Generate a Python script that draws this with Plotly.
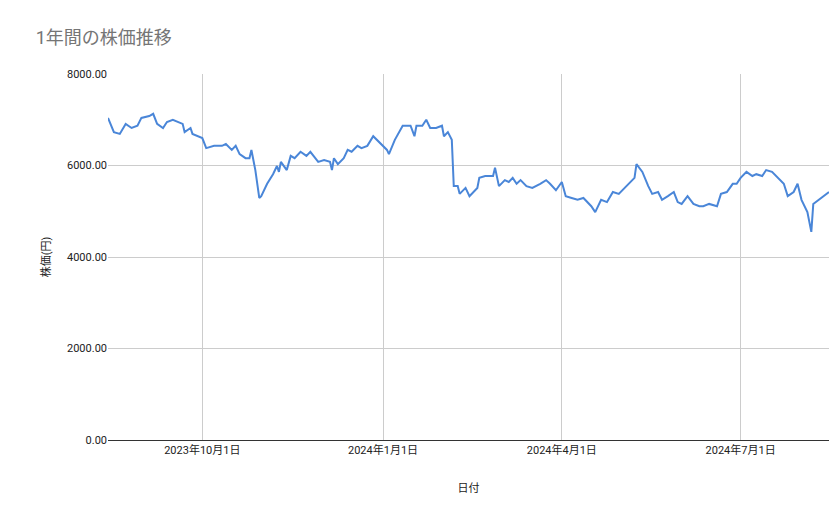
import plotly.graph_objects as go

# =========================
# DATA
# =========================
dates = [
    "2023-08-14", "2023-08-16", "2023-08-17", "2023-08-20", "2023-08-23", "2023-08-26",
    "2023-08-29", "2023-08-31", "2023-09-04", "2023-09-06", "2023-09-08", "2023-09-11",
    "2023-09-13", "2023-09-16", "2023-09-21", "2023-09-22", "2023-09-25", "2023-09-26",
    "2023-09-29", "2023-10-01", "2023-10-03", "2023-10-07", "2023-10-11", "2023-10-13",
    "2023-10-16", "2023-10-18", "2023-10-20", "2023-10-23", "2023-10-25", "2023-10-26",
    "2023-10-28", "2023-10-30", "2023-10-31", "2023-11-03", "2023-11-06", "2023-11-08",
    "2023-11-09", "2023-11-10", "2023-11-13", "2023-11-15", "2023-11-17", "2023-11-20",
    "2023-11-23", "2023-11-25", "2023-11-29", "2023-12-02", "2023-12-05", "2023-12-06",
    "2023-12-07", "2023-12-09", "2023-12-12", "2023-12-14", "2023-12-16", "2023-12-19",
    "2023-12-21", "2023-12-24", "2023-12-27", "2023-12-31", "2024-01-03", "2024-01-04",
    "2024-01-07", "2024-01-11", "2024-01-15", "2024-01-17", "2024-01-18", "2024-01-21",
    "2024-01-23", "2024-01-25", "2024-01-28", "2024-01-31", "2024-02-01", "2024-02-03",
    "2024-02-05", "2024-02-06", "2024-02-08", "2024-02-09", "2024-02-12", "2024-02-14",
    "2024-02-18", "2024-02-19", "2024-02-22", "2024-02-26", "2024-02-27", "2024-02-29",
    "2024-03-03", "2024-03-05", "2024-03-07", "2024-03-09", "2024-03-11", "2024-03-14",
    "2024-03-17", "2024-03-21", "2024-03-24", "2024-03-26", "2024-03-29", "2024-04-01",
    "2024-04-03", "2024-04-06", "2024-04-09", "2024-04-12", "2024-04-16", "2024-04-18",
    "2024-04-21", "2024-04-24", "2024-04-27", "2024-04-30", "2024-05-04", "2024-05-08",
    "2024-05-09", "2024-05-12", "2024-05-15", "2024-05-17", "2024-05-20", "2024-05-22",
    "2024-05-25", "2024-05-28", "2024-05-30", "2024-06-01", "2024-06-04", "2024-06-07",
    "2024-06-10", "2024-06-12", "2024-06-15", "2024-06-19", "2024-06-21", "2024-06-24",
    "2024-06-27", "2024-06-29", "2024-07-01", "2024-07-04", "2024-07-07", "2024-07-09",
    "2024-07-12", "2024-07-14", "2024-07-17", "2024-07-20", "2024-07-23", "2024-07-25",
    "2024-07-28", "2024-07-30", "2024-08-01", "2024-08-04", "2024-08-06", "2024-08-07",
    "2024-08-11", "2024-08-15",
]
prices = [
    7040, 6820, 6730, 6690, 6910, 6820, 6870, 7040, 7080, 7130, 6910, 6820,
    6950, 7000, 6910, 6730, 6820, 6690, 6640, 6600, 6380, 6430, 6430, 6470,
    6340, 6430, 6250, 6160, 6160, 6340, 5900, 5290, 5330, 5600, 5810, 5990,
    5860, 6080, 5900, 6210, 6160, 6300, 6210, 6300, 6080, 6120, 6080, 5900,
    6160, 6030, 6160, 6340, 6300, 6430, 6380, 6430, 6640, 6470, 6340, 6250,
    6560, 6870, 6870, 6640, 6870, 6870, 7000, 6820, 6820, 6870, 6640, 6730,
    6560, 5550, 5550, 5380, 5510, 5330, 5510, 5730, 5770, 5770, 5950, 5550,
    5680, 5640, 5730, 5600, 5680, 5550, 5510, 5600, 5680, 5600, 5460, 5640,
    5330, 5290, 5250, 5290, 5110, 4980, 5250, 5200, 5420, 5380, 5550, 5730,
    6030, 5860, 5550, 5380, 5420, 5250, 5330, 5420, 5200, 5160, 5330, 5160,
    5110, 5110, 5160, 5110, 5380, 5420, 5600, 5600, 5730, 5860, 5770, 5810,
    5770, 5900, 5860, 5730, 5600, 5330, 5420, 5600, 5250, 4980, 4550, 5160,
    5290, 5420,
]

TICK_VALS = ["2023-10-01", "2024-01-01", "2024-04-01", "2024-07-01"]
TICK_TEXT = ["2023年10月1日", "2024年1月1日", "2024年4月1日", "2024年7月1日"]

# =========================
# FIGURE
# =========================
fig = go.Figure(go.Scatter(
    x=dates, y=prices, mode="lines",
    line=dict(color="#4a86d8", width=2),
))

fig.update_layout(
    width=839, height=519,
    paper_bgcolor="white", plot_bgcolor="white",
    font=dict(family="Roboto, Noto Sans CJK JP", color="#222"),
    title=dict(text="1年間の株価推移", x=0.033, y=0.955, xanchor="left",
               font=dict(size=18, color="#757575")),
    margin=dict(l=100, r=18, t=66, b=87),
    showlegend=False,
)
fig.update_xaxes(
    range=["2023-08-14", "2024-08-15"],
    tickvals=TICK_VALS, ticktext=TICK_TEXT,
    showgrid=True, gridcolor="#cccccc",
    showline=True, linecolor="#333", linewidth=1,
    tickfont=dict(size=11),
    title=dict(text="日付", font=dict(size=11), standoff=28),
)
fig.update_yaxes(
    range=[0, 8000], tickvals=[0, 2000, 4000, 6000, 8000], tickformat=".2f",
    showgrid=True, gridcolor="#cccccc", zeroline=False,
    tickfont=dict(size=11),
    title=dict(text="株価(円)", font=dict(size=11), standoff=14),
)

fig.write_html("out.html")
